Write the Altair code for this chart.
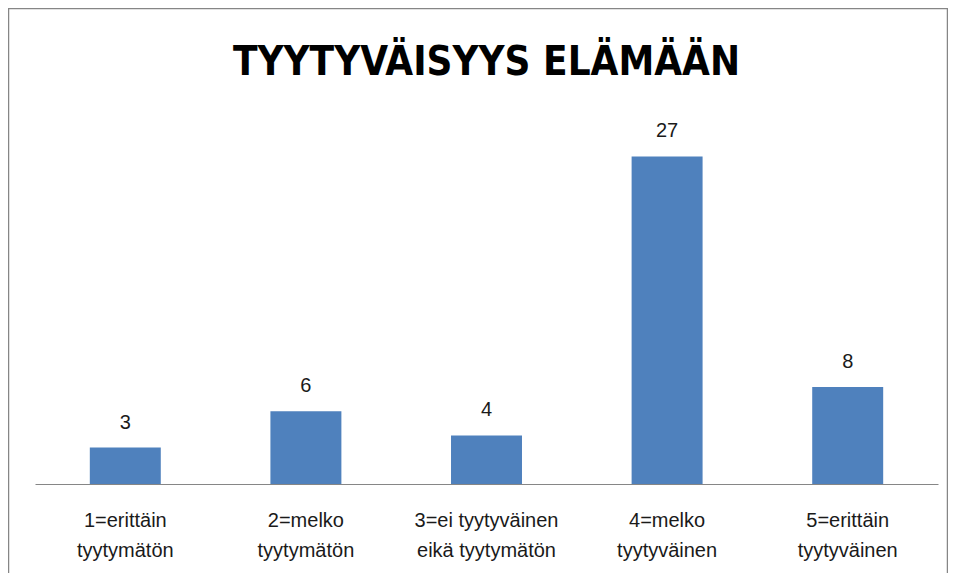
import altair as alt
import pandas as pd

title_text = "TYYTYVÄISYYS ELÄMÄÄN"
categories = [
    "1=erittäin|tyytymätön",
    "2=melko|tyytymätön",
    "3=ei tyytyväinen|eikä tyytymätön",
    "4=melko|tyytyväinen",
    "5=erittäin|tyytyväinen",
]
values = [3, 6, 4, 27, 8]

df = pd.DataFrame({"cat": categories, "n": values})

LABEL_FONT = "Liberation Sans"
TITLE_FONT = "DejaVu Sans Condensed"

x_enc = alt.X(
    "cat:N",
    sort=categories,
    scale=alt.Scale(paddingInner=0.607, paddingOuter=0.3035),
    axis=alt.Axis(
        title=None,
        labelAngle=0,
        labelExpr="split(datum.label, '|')",
        ticks=False,
        domainColor="#868686",
        domainWidth=1,
        labelFont=LABEL_FONT,
        labelFontSize=20,
        labelColor="#1a1a1a",
        labelPadding=26,
        labelLineHeight=30,
        labelBaseline="top",
    ),
)
y_enc = alt.Y("n:Q", scale=alt.Scale(domain=[0, 30]), axis=None)

base = alt.Chart(df)
bars = base.mark_bar(color="#4F81BD").encode(x=x_enc, y=y_enc)
labels = base.mark_text(
    dy=-25, fontSize=20, font=LABEL_FONT, color="#1a1a1a", baseline="middle"
).encode(x=x_enc, y=y_enc, text="n:Q")

frame = alt.Chart(pd.DataFrame({"a": [0]})).mark_rect(
    fill=None, stroke="#868686", strokeWidth=1.5
).encode(
    x=alt.value(-26.5), x2=alt.value(912.5), y=alt.value(-111.5), y2=alt.value(480)
)

chart = (
    alt.layer(frame, bars, labels)
    .properties(
        width=903,
        height=364,
        autosize=alt.AutoSizeParams(type="none"),
        padding={"left": 27, "top": 112, "right": 10, "bottom": 89},
        title=alt.Title(
            title_text,
            font=TITLE_FONT,
            fontSize=40,
            fontWeight="bold",
            color="#000000",
            anchor="middle",
            baseline="alphabetic",
            offset=-107,
        ),
    )
    .configure_view(stroke=None)
)

chart.save("out.html", embed_options={"renderer": "svg", "actions": False})
